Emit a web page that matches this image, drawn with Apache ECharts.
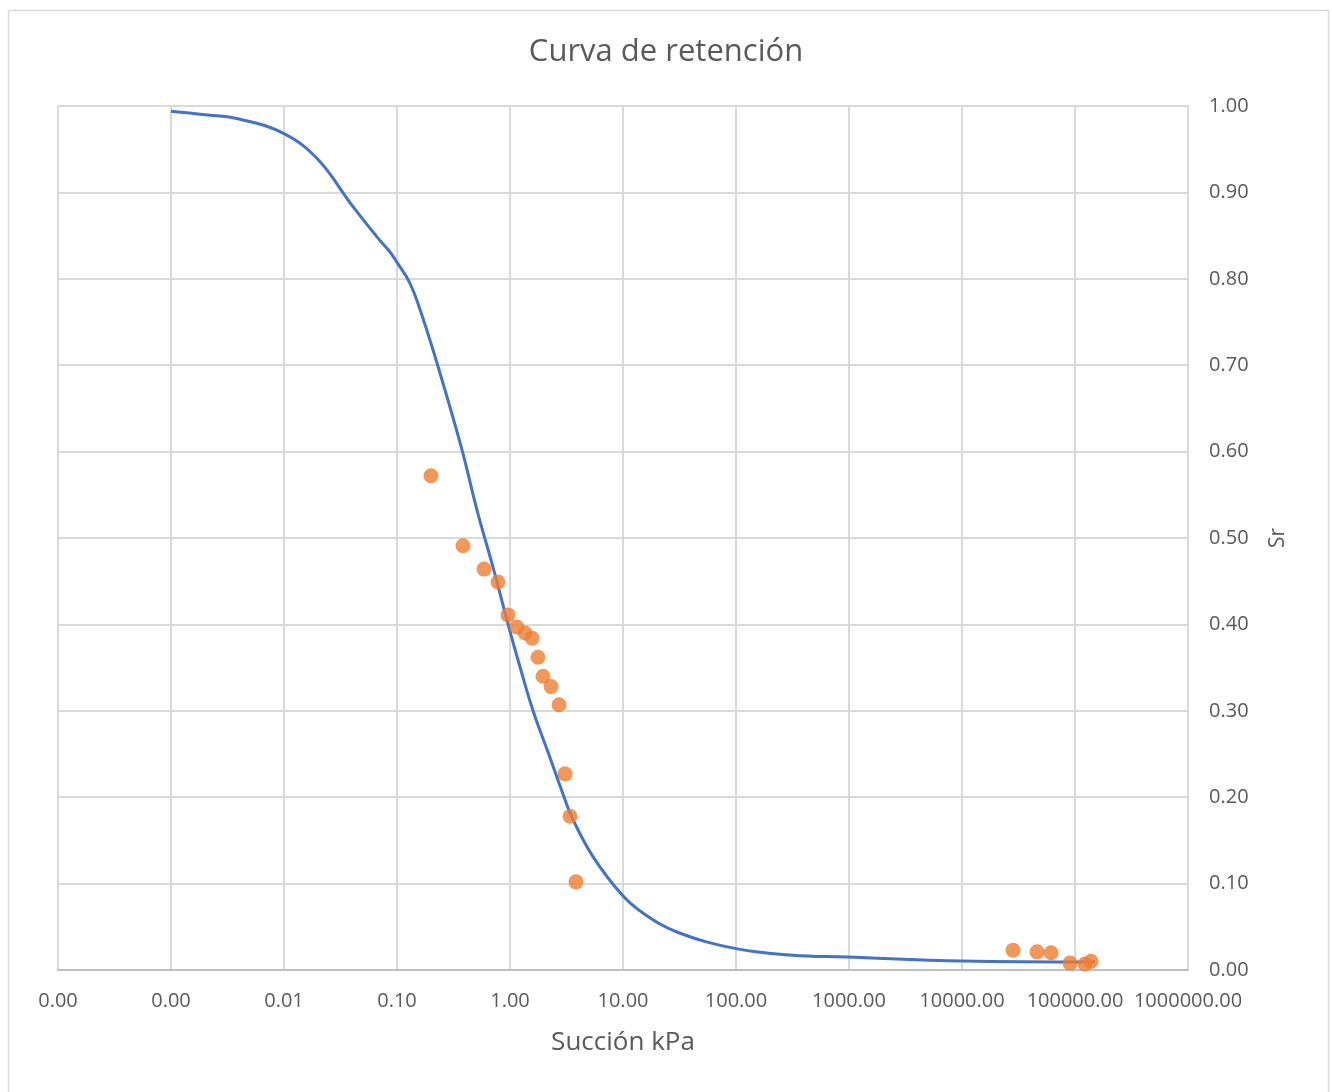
<!DOCTYPE html>
<html>
<head>
<meta charset="utf-8">
<script src="https://cdn.jsdelivr.net/npm/echarts@6/dist/echarts.min.js"></script>
<style>
html,body{margin:0;padding:0;background:#fff;}
#chart{width:1332px;height:1092px;}
</style>
</head>
<body>
<div id="chart"></div>
<script>
// Fitted retention curve (suction kPa, Sr)
const curveSuction = [0.001, 0.002, 0.004, 0.01, 0.02, 0.04, 0.07, 0.0867, 0.1, 0.13, 0.166, 0.24, 0.376, 0.511, 0.708, 0.94, 1.2, 1.6, 2.2, 3.07, 3.61, 5.44, 9.8, 15, 30, 98, 316, 950, 10000, 150000];
const curveSr      = [0.994, 0.990, 0.985, 0.968, 0.938, 0.885, 0.845, 0.831, 0.819, 0.795, 0.758, 0.691, 0.602, 0.532, 0.466, 0.405, 0.355, 0.300, 0.250, 0.197, 0.174, 0.131, 0.087, 0.066, 0.044, 0.025, 0.017, 0.015, 0.0104, 0.0093];

// Measured points
const pointSuction = [0.2, 0.384, 0.589, 0.783, 0.96, 1.15, 1.36, 1.57, 1.77, 1.96, 2.31, 2.72, 3.07, 3.40, 3.84, 28300, 46100, 61400, 90400, 122500, 138700];
const pointSr      = [0.572, 0.491, 0.464, 0.449, 0.411, 0.397, 0.390, 0.384, 0.362, 0.340, 0.328, 0.307, 0.227, 0.178, 0.102, 0.023, 0.021, 0.020, 0.008, 0.007, 0.010];

const titleText = 'Curva de retención';
const xName = 'Succión kPa';
const yName = 'Sr';

const font = '"Open Sans", "Noto Sans", sans-serif';
const curveData = curveSuction.map((x, i) => [x, curveSr[i]]);
const pointData = pointSuction.map((x, i) => [x, pointSr[i]]);

const chart = echarts.init(document.getElementById('chart'), null, {renderer: 'canvas'});
chart.setOption({
  animation: false,
  backgroundColor: '#ffffff',
  graphic: [{
    type: 'rect', left: 6, top: 8, z: -10,
    shape: {width: 1320, height: 1100},
    style: {fill: 'none', stroke: '#d9d9d9', lineWidth: 1.5}
  }],
  title: {
    text: titleText, left: 'center', top: 32,
    textStyle: {fontFamily: font, fontSize: 31, fontWeight: 'normal', color: '#595959'}
  },
  grid: {left: 58, right: 144, top: 106, bottom: 122, containLabel: false},
  xAxis: {
    type: 'log', logBase: 10, min: 0.0001, max: 1000000,
    name: xName, nameLocation: 'middle', nameGap: 60,
    nameTextStyle: {fontFamily: font, fontSize: 26, color: '#595959'},
    axisLine: {show: true, onZero: false, lineStyle: {color: '#bfbfbf', width: 2}},
    axisTick: {show: false},
    minorTick: {show: false},
    axisLabel: {
      fontFamily: font, fontSize: 20, color: '#595959', margin: 21,
      formatter: v => Number(v).toFixed(2)
    },
    splitLine: {show: true, lineStyle: {color: '#d9d9d9', width: 2}}
  },
  yAxis: {
    type: 'value', position: 'right', min: 0, max: 1, interval: 0.1,
    name: yName, nameLocation: 'middle', nameGap: 80, nameRotate: 90,
    nameTextStyle: {fontFamily: font, fontSize: 21, color: '#595959'},
    axisLine: {show: false},
    axisTick: {show: false},
    axisLabel: {
      fontFamily: font, fontSize: 20, color: '#595959', margin: 21,
      formatter: v => Number(v).toFixed(2)
    },
    splitLine: {show: true, lineStyle: {color: '#d9d9d9', width: 2}}
  },
  series: [
    {
      type: 'line', data: curveData, smooth: 0.4, showSymbol: false, symbol: 'none',
      lineStyle: {color: '#4472c4', width: 3}, z: 3
    },
    {
      type: 'scatter', data: pointData, symbol: 'circle', symbolSize: 15,
      itemStyle: {color: '#ed7d31'}, z: 4
    }
  ]
});
</script>
</body>
</html>
